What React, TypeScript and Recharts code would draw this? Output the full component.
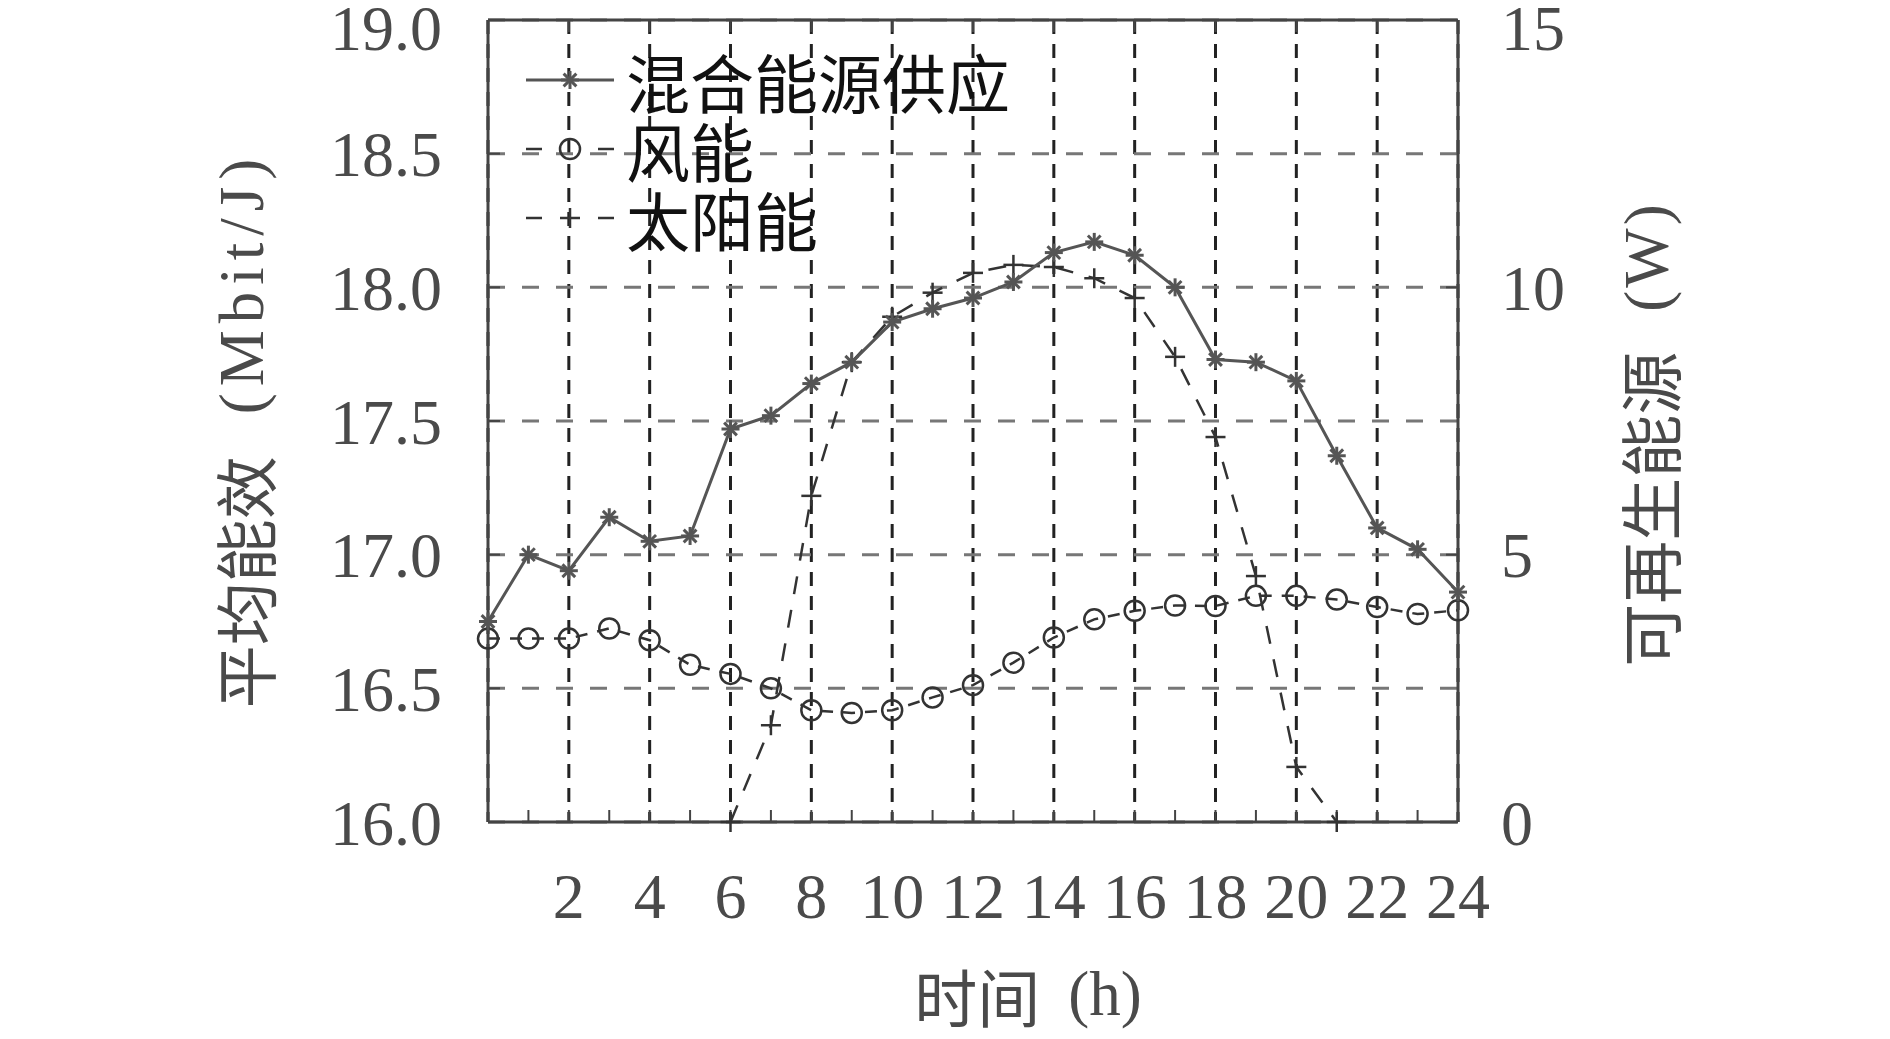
import { ComposedChart, Line, XAxis, YAxis, CartesianGrid, Legend } from 'recharts';

// hourly values
const hours = [0, 1, 2, 3, 4, 5, 6, 7, 8, 9, 10, 11, 12, 13, 14, 15, 16, 17, 18, 19, 20, 21, 22, 23, 24];
const mixedSupply = [
  16.75, 17.0, 16.94, 17.14, 17.05, 17.07, 17.47, 17.52, 17.64, 17.72, 17.87, 17.92, 17.96,
  18.02, 18.13, 18.17, 18.12, 18.0, 17.73, 17.72, 17.65, 17.37, 17.1, 17.02, 16.86
];
const windPower = [
  3.43, 3.43, 3.43, 3.62, 3.4, 2.94, 2.77, 2.5, 2.09, 2.04, 2.09, 2.33, 2.56,
  2.98, 3.45, 3.79, 3.95, 4.05, 4.04, 4.23, 4.23, 4.16, 4.02, 3.89, 3.96
];
const solarPower = [
  null, null, null, null, null, null, 0, 1.81, 6.1, 8.6, 9.45, 9.9, 10.27,
  10.42, 10.38, 10.17, 9.8, 8.7, 7.2, 4.6, 1.03, 0, null, null, null
];

const leftTicks = [16, 16.5, 17, 17.5, 18, 18.5, 19];
const rightTicks = [0, 5, 10, 15];
const gridHours = [0, 2, 4, 6, 8, 10, 12, 14, 16, 18, 20, 22, 24];

const seriesNames = ['混合能源供应', '风能', '太阳能'];

const data = hours.map((h, i) => ({
  hour: h,
  mixed: mixedSupply[i],
  wind: windPower[i],
  solar: solarPower[i]
}));

const SERIF = '"Liberation Serif", "Noto Sans CJK SC", serif';
const CJK = '"Noto Sans CJK SC", sans-serif';
const AXIS = '#444';
const TEXT = '#4a4a4a';
const tickStyle = { fill: TEXT, fontSize: 64, fontFamily: SERIF };

function StarDot(props: any) {
  const { cx, cy } = props;
  if (cx == null || cy == null || isNaN(cy)) return null;
  const r = 9;
  const d = r * 0.707;
  return (
    <g stroke="#555" strokeWidth={3}>
      <line x1={cx - r} y1={cy} x2={cx + r} y2={cy} />
      <line x1={cx} y1={cy - r} x2={cx} y2={cy + r} />
      <line x1={cx - d} y1={cy - d} x2={cx + d} y2={cy + d} />
      <line x1={cx - d} y1={cy + d} x2={cx + d} y2={cy - d} />
    </g>
  );
}

function CircleDot(props: any) {
  const { cx, cy } = props;
  if (cx == null || cy == null || isNaN(cy)) return null;
  return <circle cx={cx} cy={cy} r={10} fill="none" stroke="#333" strokeWidth={2.5} />;
}

function PlusDot(props: any) {
  const { cx, cy } = props;
  if (cx == null || cy == null || isNaN(cy)) return null;
  const r = 10;
  return (
    <g stroke="#333" strokeWidth={2.5}>
      <line x1={cx - r} y1={cy} x2={cx + r} y2={cy} />
      <line x1={cx} y1={cy - r} x2={cx} y2={cy + r} />
    </g>
  );
}

// y tick labels; the top one is pushed down a little so it stays inside the picture
function SideTick(props: any) {
  const { x, y, payload, anchor, digits } = props;
  const yy = Math.max(y, 27);
  const v = Number(payload.value);
  return (
    <text x={x} y={yy} dy="0.355em" textAnchor={anchor} style={tickStyle}>
      {digits ? v.toFixed(digits) : String(v)}
    </text>
  );
}

function LegendBox() {
  const row = { display: 'flex', alignItems: 'center', height: 69 };
  const label = { fontFamily: CJK, fontSize: 64, color: '#111', marginLeft: 12, lineHeight: '66px' };
  return (
    <div>
      <div style={row}>
        <svg width={88} height={30}>
          <line x1={0} y1={15} x2={88} y2={15} stroke="#555" strokeWidth={3} />
          <StarDot cx={44} cy={15} />
        </svg>
        <span style={label}>{seriesNames[0]}</span>
      </div>
      <div style={row}>
        <svg width={88} height={30}>
          <line x1={0} y1={15} x2={16} y2={15} stroke="#333" strokeWidth={2.5} />
          <CircleDot cx={44} cy={15} />
          <line x1={72} y1={15} x2={88} y2={15} stroke="#333" strokeWidth={2.5} />
        </svg>
        <span style={label}>{seriesNames[1]}</span>
      </div>
      <div style={row}>
        <svg width={88} height={30}>
          <line x1={0} y1={15} x2={16} y2={15} stroke="#333" strokeWidth={2.5} />
          <PlusDot cx={44} cy={15} />
          <line x1={72} y1={15} x2={88} y2={15} stroke="#333" strokeWidth={2.5} />
        </svg>
        <span style={label}>{seriesNames[2]}</span>
      </div>
    </div>
  );
}

const titleStyle = { fontSize: 63, fill: TEXT };

function LeftTitle(props: any) {
  const vb = props.viewBox || { x: 0, y: 20, width: 488, height: 802 };
  const cx = vb.x + vb.width - 246;
  const cy = vb.y + vb.height / 2 + 9;
  return (
    <text x={cx} y={cy} transform={`rotate(-90 ${cx} ${cy})`} textAnchor="middle" dominantBaseline="central" style={titleStyle}>
      <tspan fontFamily={CJK}>平均能效</tspan>
      <tspan fontFamily={SERIF} dx={42} letterSpacing={7}>(Mbit/J)</tspan>
    </text>
  );
}

function RightTitle(props: any) {
  const vb = props.viewBox || { x: 1458, y: 20, width: 432, height: 802 };
  const cx = vb.x + 189;
  const cy = vb.y + vb.height / 2 + 13;
  return (
    <text x={cx} y={cy} transform={`rotate(-90 ${cx} ${cy})`} textAnchor="middle" dominantBaseline="central" style={titleStyle}>
      <tspan fontFamily={CJK}>可再生能源</tspan>
      <tspan fontFamily={SERIF} dx={40} letterSpacing={3}>(W)</tspan>
    </text>
  );
}

function BottomTitle(props: any) {
  const vb = props.viewBox || { x: 488, y: 822, width: 970, height: 217 };
  const cx = vb.x + vb.width / 2 + 55;
  const cy = vb.y + 172;
  return (
    <text x={cx} y={cy} textAnchor="middle" dominantBaseline="central" style={titleStyle}>
      <tspan fontFamily={CJK}>时间</tspan>
      <tspan fontFamily={SERIF} dx={28}>(h)</tspan>
    </text>
  );
}

export default function App() {
  return (
    <div style={{ width: 1890, height: 1039, margin: -8, background: '#fff', overflow: 'hidden' }}>
      <ComposedChart width={1890} height={1039} data={data} margin={{ top: 0, right: 0, bottom: 0, left: 0 }}>
        <CartesianGrid xAxisId="top" yAxisId="left" horizontal={false} stroke="#222" strokeWidth={3} strokeDasharray="14 10" />
        <CartesianGrid xAxisId="top" yAxisId="left" vertical={false} stroke="#777" strokeWidth={3} strokeDasharray="17 17" />
        <XAxis
          xAxisId="bottom"
          dataKey="hour"
          type="number"
          domain={[0, 24]}
          ticks={hours}
          interval={0}
          tickFormatter={(v: number) => (v > 0 && v % 2 === 0 ? String(v) : '')}
          height={217}
          tickSize={-12}
          tickMargin={63}
          axisLine={{ stroke: AXIS, strokeWidth: 3 }}
          tickLine={{ stroke: AXIS, strokeWidth: 2 }}
          tick={tickStyle}
          label={(p: any) => <BottomTitle {...p} />}
        />
        <XAxis
          xAxisId="top"
          orientation="top"
          dataKey="hour"
          type="number"
          domain={[0, 24]}
          ticks={gridHours}
          interval={0}
          tickFormatter={() => ''}
          height={20}
          tickSize={-12}
          axisLine={{ stroke: AXIS, strokeWidth: 3 }}
          tickLine={{ stroke: AXIS, strokeWidth: 2 }}
        />
        <YAxis
          yAxisId="left"
          type="number"
          domain={[16, 19]}
          ticks={leftTicks}
          interval={0}
          width={488}
          tickSize={-12}
          tickMargin={58}
          axisLine={{ stroke: AXIS, strokeWidth: 3 }}
          tickLine={{ stroke: AXIS, strokeWidth: 2 }}
          tick={(p: any) => <SideTick key={`l${p.index}`} {...p} anchor="end" digits={1} />}
          label={(p: any) => <LeftTitle {...p} />}
        />
        <YAxis
          yAxisId="right"
          orientation="right"
          type="number"
          domain={[0, 15]}
          ticks={rightTicks}
          interval={0}
          width={432}
          tickSize={-12}
          tickMargin={55}
          axisLine={{ stroke: AXIS, strokeWidth: 3 }}
          tickLine={{ stroke: AXIS, strokeWidth: 2 }}
          tick={(p: any) => <SideTick key={`r${p.index}`} {...p} anchor="start" digits={0} />}
          label={(p: any) => <RightTitle {...p} />}
        />
        <Legend
          layout="vertical"
          align="center"
          verticalAlign="middle"
          wrapperStyle={{ top: 45, left: 526, width: 'auto', height: 'auto' }}
          content={() => <LegendBox />}
        />
        <Line
          xAxisId="bottom"
          yAxisId="right"
          dataKey="wind"
          name={seriesNames[1]}
          stroke="#333"
          strokeWidth={2.5}
          strokeDasharray="12 10"
          dot={(p: any) => <CircleDot key={`w${p.index}`} {...p} />}
          activeDot={false}
          isAnimationActive={false}
        />
        <Line
          xAxisId="bottom"
          yAxisId="right"
          dataKey="solar"
          name={seriesNames[2]}
          stroke="#333"
          strokeWidth={2.5}
          strokeDasharray="18 16"
          dot={(p: any) => <PlusDot key={`s${p.index}`} {...p} />}
          activeDot={false}
          isAnimationActive={false}
        />
        <Line
          xAxisId="bottom"
          yAxisId="left"
          dataKey="mixed"
          name={seriesNames[0]}
          stroke="#555"
          strokeWidth={3}
          dot={(p: any) => <StarDot key={`m${p.index}`} {...p} />}
          activeDot={false}
          isAnimationActive={false}
        />
      </ComposedChart>
    </div>
  );
}
